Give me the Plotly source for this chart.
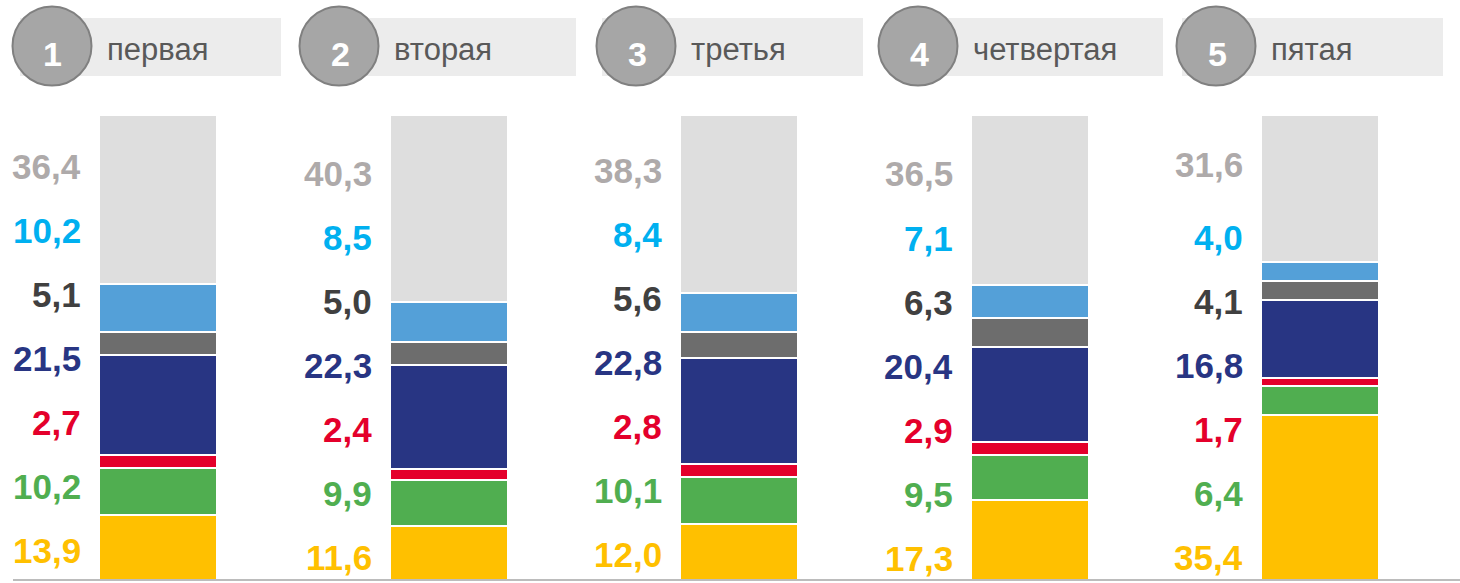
import plotly.graph_objects as go

# ---- data -------------------------------------------------------------
categories = ["первая", "вторая", "третья", "четвертая", "пятая"]
numbers = ["1", "2", "3", "4", "5"]

# stacked shares, bottom segment first
yellow = [13.9, 11.6, 12.0, 17.3, 35.4]
green = [10.2, 9.9, 10.1, 9.5, 6.4]
red = [2.7, 2.4, 2.8, 2.9, 1.7]
navy = [21.5, 22.3, 22.8, 20.4, 16.8]
dark_gray = [5.1, 5.0, 5.6, 6.3, 4.1]
light_blue = [10.2, 8.5, 8.4, 7.1, 4.0]
light_gray = [36.4, 40.3, 38.3, 36.5, 31.6]

series = [yellow, green, red, navy, dark_gray, light_blue, light_gray]

# ---- styles -----------------------------------------------------------
bar_colors = ["#ffc000", "#50ae50", "#e4002b", "#283583", "#6d6d6d", "#54a0d8", "#dedede"]
text_colors = ["#ffc000", "#50ae50", "#e4002b", "#283583", "#404040", "#00b0f0", "#aeaaaa"]
FONT = "Arial, Liberation Sans, sans-serif"

W, H = 1460, 583
PX_PER_UNIT = 4.65        # vertical scale: 100 % = 465 px
BASE_PX = 580             # pixel row of y = 0
CAT_PX = 290.5            # distance between bar centres
FIRST_BAR_PX = 158        # centre of the first bar

# label column layout (pixel rows)
LABEL_BOTTOM_PX = [550, 557, 554, 558, 557.5]
LABEL_TOP_PX = [166.5, 173, 170, 173, 164]
LABEL_STEP_PX = 64
LABEL_GAP = 0.258         # label right edge, in category units left of bar centre

# header layout (pixels)
CIRCLE_X = [52, 339, 636, 918, 1216]
CIRCLE_Y, CIRCLE_R = 46, 39.5
RECT_END = [281, 576, 863, 1163, 1443]
RECT_W = 261
RECT_Y0, RECT_Y1 = 18, 76


def px_to_y(py):
    return (BASE_PX - py) / PX_PER_UNIT


def paper_x(px):
    return px / W


def paper_y(py):
    return 1 - py / H


fig = go.Figure()
for vals, col in zip(series, bar_colors):
    fig.add_trace(go.Bar(
        x=categories, y=vals,
        marker=dict(color=col, line=dict(color="white", width=2)),
        width=118 / CAT_PX,
        hoverinfo="skip", showlegend=False,
    ))

annotations = []
shapes = []

# value labels to the left of each bar
for i in range(len(categories)):
    for k, (vals, tcol) in enumerate(zip(series, text_colors)):
        if k == len(series) - 1:
            py = LABEL_TOP_PX[i]
        else:
            py = LABEL_BOTTOM_PX[i] - k * LABEL_STEP_PX
        annotations.append(dict(
            x=i - LABEL_GAP, y=px_to_y(py), xref="x", yref="y",
            text=f"<b>{vals[i]:.1f}</b>".replace(".", ","),
            showarrow=False, xanchor="right", yanchor="middle",
            font=dict(family=FONT, size=35, color=tcol),
        ))

# headers: grey band + numbered circle + title
for i, name in enumerate(categories):
    shapes.append(dict(
        type="rect", xref="paper", yref="paper",
        x0=paper_x(RECT_END[i] - RECT_W), x1=paper_x(RECT_END[i]),
        y0=paper_y(RECT_Y1), y1=paper_y(RECT_Y0),
        fillcolor="#ececec", line=dict(width=0), layer="above",
    ))
    cx = CIRCLE_X[i]
    shapes.append(dict(
        type="circle", xref="paper", yref="paper",
        x0=paper_x(cx - CIRCLE_R), x1=paper_x(cx + CIRCLE_R),
        y0=paper_y(CIRCLE_Y + CIRCLE_R), y1=paper_y(CIRCLE_Y - CIRCLE_R),
        fillcolor="#a6a6a6", line=dict(color="#808080", width=2), layer="above",
    ))
    annotations.append(dict(
        x=paper_x(cx + 1), y=paper_y(54), xref="paper", yref="paper",
        text=f"<b>{numbers[i]}</b>", showarrow=False,
        xanchor="center", yanchor="middle",
        font=dict(family=FONT, size=34, color="white"),
    ))
    annotations.append(dict(
        x=paper_x(cx + 53), y=paper_y(50), xref="paper", yref="paper",
        text=name, showarrow=False, xanchor="left", yanchor="middle",
        font=dict(family=FONT, size=31, color="#595959"),
    ))

# baseline
shapes.append(dict(
    type="line", xref="paper", yref="y",
    x0=paper_x(13), x1=1, y0=0, y1=0,
    line=dict(color="#a6a6a6", width=1.5), layer="above",
))

x_left = -FIRST_BAR_PX / CAT_PX
x_right = (len(categories) - 1) + (W - (FIRST_BAR_PX + (len(categories) - 1) * CAT_PX)) / CAT_PX

fig.update_layout(
    width=W, height=H,
    margin=dict(l=0, r=0, t=0, b=0),
    barmode="stack", bargap=0,
    paper_bgcolor="white", plot_bgcolor="white",
    xaxis=dict(range=[x_left, x_right], visible=False, fixedrange=True),
    yaxis=dict(range=[px_to_y(H), px_to_y(0)], visible=False, fixedrange=True),
    shapes=shapes, annotations=annotations,
    showlegend=False,
)

fig.write_html("out.html", config={"displayModeBar": False})
